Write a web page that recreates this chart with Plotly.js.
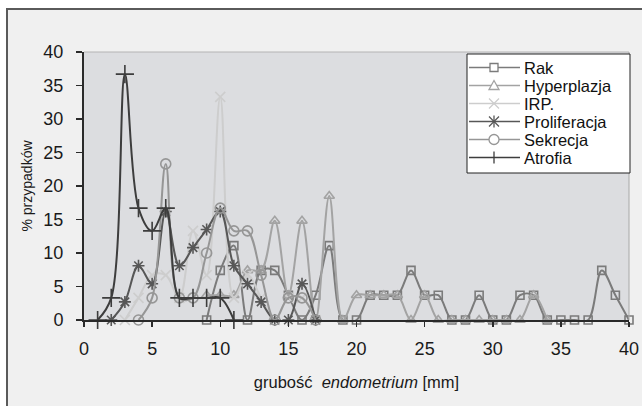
<!DOCTYPE html>
<html>
<head>
<meta charset="utf-8">
<script src="https://cdn.plot.ly/plotly-3.0.1.min.js"></script>
<style>
  html, body { margin: 0; padding: 0; background: #ffffff; }
  #frame { position: absolute; left: 6px; top: 8px; width: 636px; height: 398px;
           background: #f0f0f0; border-left: 2px solid #5a5a5a; border-top: 2px solid #5a5a5a; }
  #chart { position: absolute; left: 0; top: 0; width: 642px; height: 406px; }
</style>
</head>
<body>
<div id="frame"></div>
<div id="chart"></div>
<script>
// ---- data ----
const seriesNames = ["Rak", "Hyperplazja", "IRP.", "Proliferacja", "Sekrecja", "Atrofia"];

const rakX = [9,10,11,12,13,14,15,16,17,18,19,20,21,22,23,24,25,26,27,28,29,30,31,32,33,34,35,36,37,38,39,40];
const rakY = [0,7.4,11.1,0,7.4,7.4,3.7,0,3.7,11.1,0,0,3.7,3.7,3.7,7.4,3.7,3.7,0,0,3.7,0,0,3.7,3.7,0,0,0,0,7.4,3.7,0];

const hypX = [9,10,11,12,13,14,15,16,17,18,19,20,21,22,23,24,25,26,27,28,29,30,31,32,33,34];
const hypY = [3.7,3.7,3.7,7.4,7.4,14.8,3.7,14.8,0,18.5,0,3.7,3.7,3.7,3.7,0,3.7,0,0,0,0,0,0,0,3.7,0];

const irpX = [3,4,5,6,7,8,9,10,11,12,13,14,15,16,17];
const irpY = [0,3.3,6.7,6.7,3.3,13.3,6.7,33.3,3.3,6.7,3.3,0,3.3,3.3,0];

const proX = [2,3,4,5,6,7,8,9,10,11,12,13,14,15,16,17];
const proY = [0,2.7,8.1,5.4,16.2,8.1,10.8,13.5,16.2,8.1,5.4,2.7,0,0,5.4,0];

const sekX = [4,5,6,7,8,9,10,11,12,13,14,15,16,17];
const sekY = [0,3.3,23.3,3.3,3.3,10,16.7,13.3,13.3,6.7,0,3.3,3.3,0];

const atrX = [1,2,3,4,5,6,7,8,9,10,11];
const atrY = [0,3.3,36.7,16.7,13.3,16.7,3.3,3.3,3.3,3.3,0];

const xTicks = [0,5,10,15,20,25,30,35,40];
const yTicks = [0,5,10,15,20,25,30,35,40];

// ---- styles ----
const colors  = ["#7b7b7b", "#a3a3a3", "#cdcdcd", "#575757", "#969696", "#3d3d3d"];
const symbols = ["square-open", "triangle-up-open", "x-thin-open", "asterisk-open", "circle-open", "cross-thin-open"];
const msizes  = [8, 9, 10, 10, 10, 13];

const xs = [rakX, hypX, irpX, proX, sekX, atrX];
const ys = [rakY, hypY, irpY, proY, sekY, atrY];

const traces = seriesNames.map((n, i) => ({
  type: "scatter", mode: "lines+markers", name: n,
  x: xs[i], y: ys[i],
  line: { color: colors[i], width: 2, shape: "spline", smoothing: 1 },
  marker: { symbol: symbols[i], size: msizes[i], color: colors[i], line: { color: colors[i], width: 1.6 } },
  cliponaxis: false, showlegend: false
}));

// plot area in pixels
const L = 84, R = 13, T = 52, B = 86, W = 642, H = 406;
const pw = W - L - R, ph = H - T - B;
const px = v => (v - L) / pw;
const py = v => (H - B - v) / ph;

const shapes = [
  { type: "line", xref: "paper", yref: "paper", x0: 0, x1: 1, y0: 1, y1: 1, line: { color: "#b4b4b4", width: 1 } },
  { type: "line", xref: "paper", yref: "paper", x0: 1, x1: 1, y0: 0, y1: 1, line: { color: "#a8a8a8", width: 1 } },
  // legend box
  { type: "rect", xref: "paper", yref: "paper", x0: px(467), x1: px(630), y0: py(54), y1: py(173),
    fillcolor: "#ffffff", line: { color: "#222", width: 1 }, layer: "above" }
];
const annotations = [];
const legTop = 67.5, legStep = 18, lx0 = 469, lx1 = 520, mx = 494;
seriesNames.forEach((n, i) => {
  const cy = legTop + i * legStep;
  const c = colors[i];
  shapes.push({ type: "line", xref: "paper", yref: "paper", x0: px(lx0), x1: px(lx1), y0: py(cy), y1: py(cy),
                line: { color: c, width: 1.5 }, layer: "above" });
  const s = 4;
  const ln = (a, b, cc, d) => shapes.push({ type: "line", xref: "paper", yref: "paper",
      x0: px(a), y0: py(b), x1: px(cc), y1: py(d), line: { color: c, width: 1.3 }, layer: "above" });
  if (i === 0) shapes.push({ type: "rect", xref: "paper", yref: "paper", x0: px(mx - s), x1: px(mx + s),
      y0: py(cy + s), y1: py(cy - s), fillcolor: "#ffffff", line: { color: c, width: 1.3 }, layer: "above" });
  if (i === 1) shapes.push({ type: "path", xref: "paper", yref: "paper",
      path: `M ${px(mx - 5)} ${py(cy + 4)} L ${px(mx + 5)} ${py(cy + 4)} L ${px(mx)} ${py(cy - 5)} Z`,
      fillcolor: "#ffffff", line: { color: c, width: 1.3 }, layer: "above" });
  if (i === 2) { ln(mx - 5, cy - 5, mx + 5, cy + 5); ln(mx - 5, cy + 5, mx + 5, cy - 5); }
  if (i === 3) { ln(mx - 5, cy - 5, mx + 5, cy + 5); ln(mx - 5, cy + 5, mx + 5, cy - 5); ln(mx, cy - 6, mx, cy + 6); }
  if (i === 4) shapes.push({ type: "circle", xref: "paper", yref: "paper", x0: px(mx - 5), x1: px(mx + 5),
      y0: py(cy + 5), y1: py(cy - 5), fillcolor: "#ffffff", line: { color: c, width: 1.3 }, layer: "above" });
  if (i === 5) { ln(mx, cy - 6, mx, cy + 6); }
  annotations.push({ xref: "paper", yref: "paper", x: px(522), y: py(cy), xanchor: "left", yanchor: "middle",
    text: n, showarrow: false, font: { family: "Liberation Sans, Arial, sans-serif", size: 16.5, color: "#111" } });
});

const layout = {
  width: W, height: H,
  margin: { l: L, r: R, t: T, b: B, pad: 0 },
  paper_bgcolor: "rgba(0,0,0,0)",
  plot_bgcolor: "#dcdde0",
  font: { family: "Liberation Sans, Arial, sans-serif", color: "#1a1a1a", size: 18 },
  showlegend: false,
  xaxis: {
    range: [0, 40], tickvals: xTicks, ticktext: xTicks.map(String),
    showgrid: false, zeroline: false, showline: true, linecolor: "#2a2a2a", linewidth: 2,
    ticks: "outside", ticklen: 5, tickwidth: 1.5, tickcolor: "#2a2a2a", ticklabelstandoff: 6,
    title: { text: "grubość  <i>endometrium</i> [mm]", font: { size: 16.5, color: "#1a1a1a" }, standoff: 19 }
  },
  yaxis: {
    range: [0, 40], tickvals: yTicks, ticktext: yTicks.map(String),
    showgrid: false, zeroline: false, showline: true, linecolor: "#2a2a2a", linewidth: 2,
    ticks: "outside", ticklen: 6, tickwidth: 1.5, tickcolor: "#2a2a2a", ticklabelstandoff: 9,
    title: { text: "% przypadków", font: { size: 14, color: "#1a1a1a" }, standoff: 7 }
  },
  shapes: shapes,
  annotations: annotations
};

Plotly.newPlot("chart", traces, layout, { staticPlot: true, displayModeBar: false });
</script>
</body>
</html>
